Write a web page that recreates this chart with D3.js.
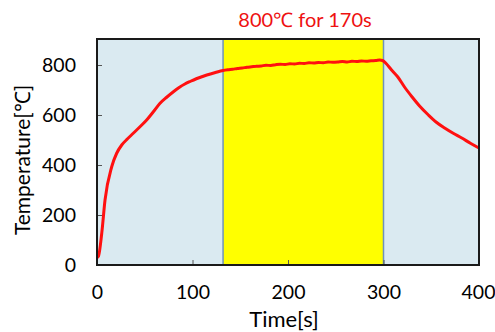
<!DOCTYPE html>
<html>
<head>
<meta charset="utf-8">
<script src="https://cdn.jsdelivr.net/npm/d3@7"></script>
<style>
  body { margin: 0; background: #fff; }
  text { font-family: Lato, "Open Sans", sans-serif; }
</style>
</head>
<body>
<div id="chart"></div>
<script>
// data
const TIMES = [0, 1.4, 5, 8.4, 15.4, 20.6, 25.9, 32, 38, 45, 52, 59, 66, 73, 80, 86, 92, 98, 104, 115, 124, 132,
  137, 142, 147, 152, 157, 162, 167, 172, 177, 182, 187, 192, 197, 202, 207, 212, 217, 222, 227,
  232, 237, 242, 247, 252, 257, 262, 267, 272, 277, 282, 287, 292, 296, 299,
  303, 308, 315, 322, 330, 338, 347, 355, 364, 373, 382, 391, 400];
const TEMPS = [30, 34, 128, 260, 393, 447, 480, 505, 527, 553, 580, 613, 647, 671, 693, 710, 724, 735, 745, 760, 770, 778,
  781, 783, 786, 788, 791, 793, 795, 796, 799, 798, 801, 803, 802, 805, 804, 807, 806, 809, 808,
  810, 809, 812, 811, 812, 814, 812, 815, 814, 816, 815, 817, 818, 820, 818,
  805, 782, 752, 712, 672, 635, 600, 572, 548, 527, 508, 487, 468];
const X_TICKS = [0, 100, 200, 300, 400];
const Y_TICKS = [0, 200, 400, 600, 800];
const HOLD = [132, 300];   // yellow band, seconds
const TITLE = "800℃ for 170s";

const W = 495, H = 332;
const margin = { top: 39, right: 16, bottom: 67, left: 97 };
const width = W - margin.left - margin.right;
const height = H - margin.top - margin.bottom;

const svg = d3.select("#chart").append("svg")
  .attr("width", W).attr("height", H);

const g = svg.append("g")
  .attr("transform", `translate(${margin.left},${margin.top})`);

const x = d3.scaleLinear().domain([0, 400]).range([0, width]);
const y = d3.scaleLinear().domain([0, 904]).range([height, 0]);

// background
g.append("rect")
  .attr("width", width).attr("height", height)
  .attr("fill", "#daeaf1");

// hold band
g.append("rect")
  .attr("x", x(HOLD[0])).attr("width", x(HOLD[1]) - x(HOLD[0]))
  .attr("y", 0).attr("height", height)
  .attr("fill", "#ffff00");

g.selectAll(".hold-line")
  .data(HOLD)
  .enter().append("line")
  .attr("x1", d => x(d)).attr("x2", d => x(d))
  .attr("y1", 0).attr("y2", height)
  .attr("stroke", "#6f93ba").attr("stroke-width", 1.5);

// axes
const xAxis = g.append("g")
  .attr("transform", `translate(0,${height})`)
  .call(d3.axisBottom(x).tickValues(X_TICKS).tickSize(-5).tickPadding(20));
const yAxis = g.append("g")
  .call(d3.axisLeft(y).tickValues(Y_TICKS).tickSize(-5).tickPadding(21));

[xAxis, yAxis].forEach(a => {
  a.select(".domain").remove();
  a.selectAll("line").attr("stroke", "#555");
  a.selectAll("text").attr("font-size", "19.5px").attr("fill", "#000")
    .attr("font-family", "Lato, 'Open Sans', sans-serif");
});
// last x label sits against the right edge
xAxis.selectAll(".tick").filter(d => d === 400).select("text")
  .attr("text-anchor", "end").attr("x", 16);

// curve
const line = d3.line()
  .x((d, i) => x(TIMES[i]))
  .y(d => y(d))
  .curve(d3.curveMonotoneX);

g.append("path")
  .datum(TEMPS)
  .attr("d", line)
  .attr("fill", "none")
  .attr("stroke", "#ff1010")
  .attr("stroke-width", 3)
  .attr("stroke-linejoin", "round");

// frame
g.append("rect")
  .attr("width", width).attr("height", height)
  .attr("fill", "none")
  .attr("stroke", "#1a1a1a").attr("stroke-width", 2);

// labels
svg.append("text")
  .attr("x", 305).attr("y", 27)
  .attr("text-anchor", "middle")
  .attr("font-size", "20px")
  .attr("fill", "#ee1111")
  .text(TITLE);

svg.append("text")
  .attr("transform", "translate(30,160) rotate(-90)")
  .attr("text-anchor", "middle")
  .attr("font-size", "21px")
  .text("Temperature[℃]");

svg.append("text")
  .attr("x", 284).attr("y", 327)
  .attr("text-anchor", "middle")
  .attr("font-size", "22px")
  .text("Time[s]");
</script>
</body>
</html>
